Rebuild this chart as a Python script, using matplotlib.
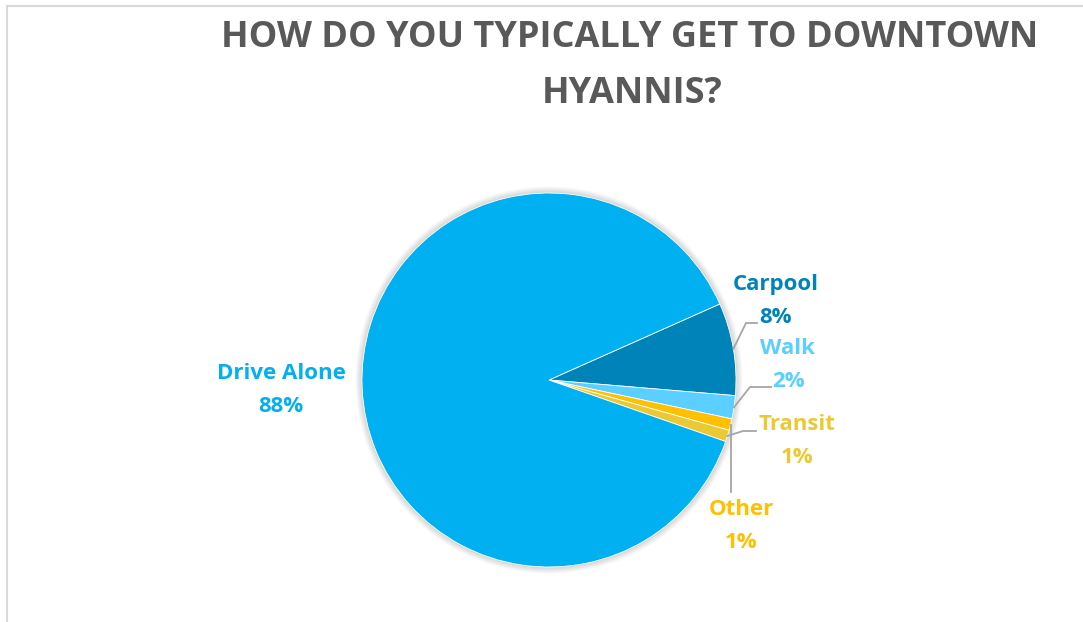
import numpy as np
import matplotlib.pyplot as plt
from matplotlib.patches import Circle, Rectangle

# survey answers, clockwise from the top of the Carpool slice
modes = ['Carpool', 'Walk', 'Other', 'Transit', 'Drive Alone']
shares = [8, 2, 1, 1, 88]
colors = ['#0083B8', '#5BCFFF', '#FFC000', '#EBC934', '#00B0F0']
label_colors = ['#0083B8', '#5BCFFF', '#FFC000', '#EBC934', '#00B0F0']

W, H = 1083, 622
cx, cy, r = 549, 380, 187
start = 24  # angle where Carpool begins (deg, ccw from +x)

font = 'Open Sans'

fig = plt.figure(figsize=(W / 100, H / 100), dpi=100)
ax = fig.add_axes([0, 0, 1, 1])

# chart-area border
fig.patches.append(Rectangle((7 / W, -0.1), 1.2, (H - 6) / H + 0.1,
                             transform=fig.transFigure, fill=False,
                             edgecolor='#D9D9D9', linewidth=1.5))

# soft shadow around the pie
for i in range(8):
    ax.add_patch(Circle((cx, H - cy), r + 1 + i * 0.8, color='black',
                        alpha=0.018, lw=0, zorder=0))

wedges, _ = ax.pie(shares, colors=colors, startangle=start, counterclock=False,
                   center=(cx, H - cy), radius=r, frame=True,
                   wedgeprops=dict(edgecolor='white', linewidth=0.6))
ax.set_xlim(0, W)
ax.set_ylim(0, H)
ax.set_aspect('equal')
ax.axis('off')

fig.text(630 / W, 1 - 38 / H, 'HOW DO YOU TYPICALLY GET TO DOWNTOWN',
         ha='center', va='center', fontsize=26, fontweight='bold',
         color='#595959', family=font)
fig.text(632 / W, 1 - 94 / H, 'HYANNIS?', ha='center', va='center',
         fontsize=26, fontweight='bold', color='#595959', family=font)

# label anchor (centre of the two-line label) and leader elbow for each slice
label_pos = {'Carpool': (776, 301), 'Walk': (788, 365), 'Other': (741, 526),
             'Transit': (797, 441), 'Drive Alone': (281, 390)}
elbows = {'Carpool': [(746, 323), (757, 323)],
          'Walk': [(750, 387), (771, 387)],
          'Other': [(729, 492)],
          'Transit': [(743, 431), (756, 431)]}

for w, name, share, lc in zip(wedges, modes, shares, label_colors):
    lx, ly = label_pos[name]
    ax.text(lx, H - ly, f'{name}\n{share}%', ha='center', va='center',
            fontsize=16, fontweight='bold', color=lc, family=font,
            linespacing=1.75)
    if name in elbows:
        mid = np.deg2rad((w.theta1 + w.theta2) / 2)
        px, py = cx + r * np.cos(mid), cy - r * np.sin(mid)
        if name == 'Other':
            pts = [(px, py), (px, elbows[name][0][1])]
        else:
            pts = [(px, py)] + elbows[name]
        xs = [p[0] for p in pts]
        ys = [H - p[1] for p in pts]
        ax.plot(xs, ys, color='#A6A6A6', linewidth=1.3, zorder=3)

fig.savefig('out.png', dpi=100, facecolor='white')
